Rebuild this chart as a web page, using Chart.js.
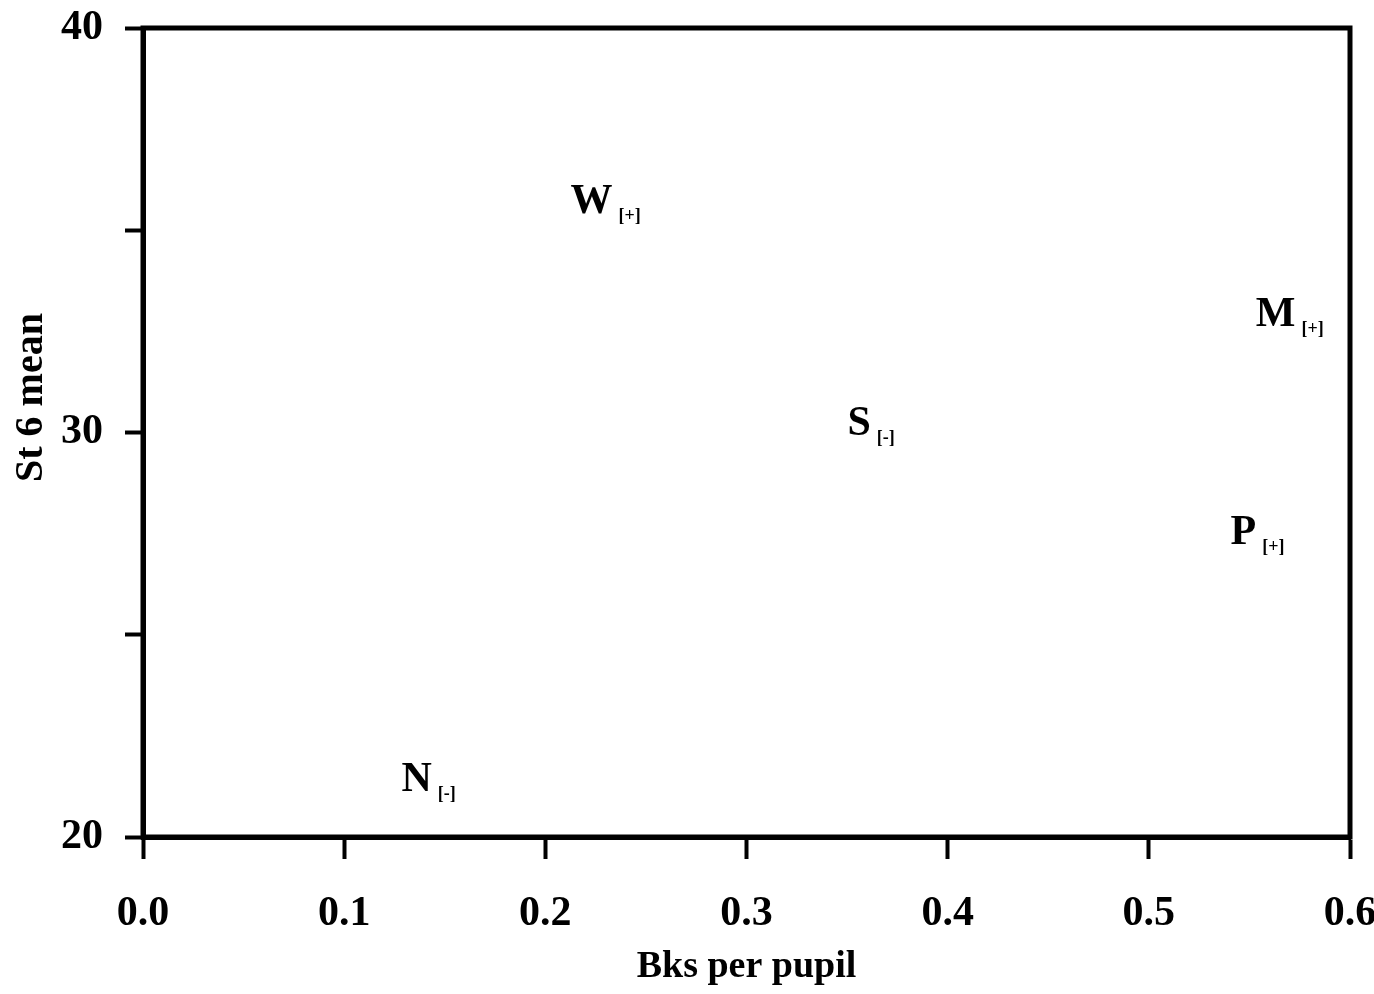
<!DOCTYPE html>
<html>
<head>
<meta charset="utf-8">
<script src="https://cdn.jsdelivr.net/npm/chart.js@4.4.0/dist/chart.umd.min.js"></script>
<style>
  html, body { margin: 0; padding: 0; background: #fff; }
  #wrap { width: 1374px; height: 994px; }
</style>
</head>
<body>
<div id="wrap"><canvas id="chart"></canvas></div>
<script>
// school letters with their small bracket marks
const schools = ['W', 'S', 'M', 'P', 'N'];
const marks = ['[+]', '[-]', '[+]', '[+]', '[-]'];
const bksPerPupil = [0.223, 0.356, 0.563, 0.547, 0.136];
const st6Mean = [35.7, 30.2, 32.9, 27.5, 21.4];
const yLabelled = [20, 30, 40];

const serif = '"Liberation Serif", serif';

// draw the letters where the points sit
const letterPlugin = {
  id: 'letters',
  afterDatasetsDraw(chart) {
    const ctx = chart.ctx;
    const meta = chart.getDatasetMeta(0);
    ctx.save();
    ctx.fillStyle = '#000';
    ctx.textBaseline = 'middle';
    meta.data.forEach((pt, i) => {
      ctx.font = 'bold 42px ' + serif;
      ctx.textAlign = 'center';
      ctx.fillText(schools[i], pt.x, pt.y);
      const w = ctx.measureText(schools[i]).width;
      ctx.font = 'bold 18px ' + serif;
      ctx.textAlign = 'left';
      ctx.fillText(marks[i], pt.x + w / 2 + 6, pt.y + 14);
    });
    ctx.restore();
  },
  afterDraw(chart) {
    const a = chart.chartArea;
    const ctx = chart.ctx;
    ctx.save();
    ctx.strokeStyle = '#000';
    ctx.lineWidth = 5;
    ctx.strokeRect(a.left, a.top, a.right - a.left, a.bottom - a.top);
    ctx.restore();
  }
};

new Chart(document.getElementById('chart'), {
  type: 'scatter',
  data: {
    datasets: [{
      data: bksPerPupil.map((x, i) => ({ x: x, y: st6Mean[i] })),
      pointRadius: 0,
      pointHoverRadius: 0,
    }],
  },
  options: {
    responsive: true,
    maintainAspectRatio: false,
    animation: false,
    layout: { padding: { top: 28, right: 24, left: 0, bottom: 0 } },
    plugins: {
      legend: { display: false },
      tooltip: { enabled: false },
    },
    scales: {
      x: {
        type: 'linear',
        min: 0,
        max: 0.6,
        afterFit: (s) => {
          s.height = 994 - 837;
          s.paddingLeft = 0;
          s.paddingRight = 0;
        },
        ticks: {
          stepSize: 0.1,
          color: '#000',
          font: { family: serif, size: 42, weight: 'bold' },
          padding: 30,
          callback: (v) => v.toFixed(1),
        },
        grid: { drawOnChartArea: false, tickLength: 22, tickWidth: 4, color: '#000' },
        border: { color: '#000', width: 5 },
        title: {
          display: true,
          text: 'Bks per pupil',
          color: '#000',
          font: { family: serif, size: 38, weight: 'bold' },
          padding: { top: 0, bottom: 4 },
        },
      },
      y: {
        type: 'linear',
        min: 20,
        max: 40,
        afterFit: (s) => {
          s.width = 143;
          s.paddingTop = 0;
          s.paddingBottom = 0;
        },
        ticks: {
          stepSize: 5,
          color: '#000',
          font: { family: serif, size: 42, weight: 'bold' },
          padding: 22,
          callback: (v) => (yLabelled.includes(v) ? v : ''),
        },
        grid: { drawOnChartArea: false, tickLength: 18, tickWidth: 4, color: '#000' },
        border: { color: '#000', width: 5 },
        title: {
          display: true,
          // leading spaces nudge the rotated title up a little
          text: '       St 6 mean',
          color: '#000',
          font: { family: serif, size: 40, weight: 'bold' },
          padding: { top: 8, bottom: 20 },
        },
      },
    },
  },
  plugins: [letterPlugin],
});
</script>
</body>
</html>
